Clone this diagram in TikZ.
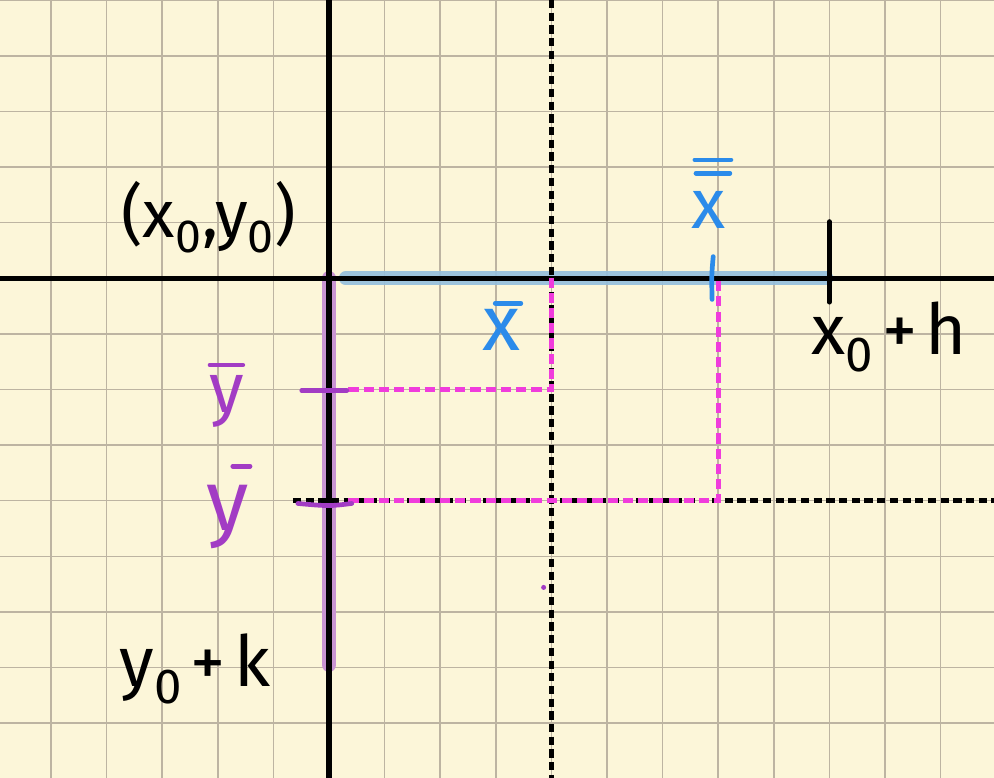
\documentclass[tikz,border=0pt]{standalone}
\usepackage{fontspec}
\setmainfont{Fira Sans}
\definecolor{paper}{HTML}{FCF6D9}
\definecolor{gridc}{HTML}{BDB4A2}
\definecolor{bluelab}{HTML}{2B8BEA}
\definecolor{magen}{HTML}{F03CDC}
\definecolor{purp}{HTML}{A23CC4}
\definecolor{purphl}{HTML}{C994D3}
\definecolor{bluehl}{HTML}{93BEDD}
\tikzset{
  axisline/.style={black, line width=2.8pt},
  blackdash/.style={black, line width=2.6pt, dash pattern=on 4.2pt off 2.3pt},
  magdash/.style={magen, line width=2.6pt, dash pattern=on 5.2pt off 2.6pt},
  hand/.style={font=\fontsize{34}{38}\selectfont, inner sep=0pt},
  tickmark/.style={line width=2.4pt, line cap=round},
  barmark/.style={line width=2.4pt, line cap=round},
}
\begin{document}
\begin{tikzpicture}
\fill[paper] (-5.917,-8.987) rectangle (11.96,5.005);
\useasboundingbox (-5.917,-8.987) rectangle (11.96,5.005);
\draw[gridc, line width=0.75pt, step=1] (-5.917,-8.987) grid (11.96,5.005);
% coordinates
\coordinate (L) at (-5.917,0);
\coordinate (R) at (11.96,0);
\coordinate (T) at (0,5.005);
\coordinate (B) at (0,-8.987);
\coordinate (DT) at (4,5.005);
\coordinate (DB) at (4,-8.987);
\coordinate (HL) at (-0.65,-4);
\coordinate (HR) at (11.96,-4);
% highlights
\draw[bluehl, line width=7pt, line cap=round, opacity=0.9] (0.3,0) -- (8.95,0);
\draw[purphl, line width=7.5pt, line cap=round] (0,0) -- (0,-6.95);
% dashed guides
\draw[blackdash] (DT) -- (DB);
\draw[blackdash] (HL) -- (HR);
% axes
\draw[axisline] (L) -- (R);
\draw[axisline] (T) -- (B);
% magenta dashed rectangles
\draw[magdash] (0.35,-2) -- (4,-2) -- (4,0);
\draw[magdash] (0.35,-4) -- (7,-4) -- (7,0);
% ticks
\draw[tickmark, black] (9,1.02) -- (9,-0.43);
\draw[tickmark, purp] (-0.49,-2.02) -- (0.32,-2.02);
\draw[tickmark, purp] (-0.56,-4.05) .. controls (0,-4.1) .. (0.41,-4.05);
\draw[tickmark, bluelab] (6.91,0.39) .. controls (6.88,0.05) .. (6.89,-0.38);
\fill[purp] (3.86,-5.56) circle (0.045);
% labels
\node[hand] (p0) at (-2.16,1.1) {(x\textsubscript{0},y\textsubscript{0})};
\node[hand, font=\fontsize{36}{40}\selectfont] (xh) at (10.07,-1.05) {x\textsubscript{0}\hspace{0.12em}+\hspace{0.12em}h};
\node[hand, font=\fontsize{36}{40}\selectfont] (yk) at (-2.41,-7.02) {y\textsubscript{0}\hspace{0.12em}+\hspace{0.12em}k};
\node[hand, text=bluelab, font=\fontsize{40}{44}\selectfont] (xb) at (3.11,-0.93) {x};
\draw[barmark, bluelab] (2.99,-0.45) -- (3.45,-0.45);
\node[hand, text=bluelab, font=\fontsize{36}{40}\selectfont] (xbb) at (6.83,1.22) {x};
\draw[barmark, bluelab] (6.58,2.13) -- (7.23,2.13);
\draw[barmark, bluelab] (6.60,1.89) -- (7.21,1.89);
\node[hand, text=purp, font=\fontsize{36}{40}\selectfont] (yb1) at (-1.83,-2.22) {y};
\draw[barmark, purp] (-2.14,-1.56) -- (-1.55,-1.56);
\node[hand, text=purp, font=\fontsize{44}{48}\selectfont] (yb2) at (-1.83,-4.29) {y};
\draw[barmark, purp] (-1.73,-3.38) -- (-1.42,-3.38);
\end{tikzpicture}
\end{document}
